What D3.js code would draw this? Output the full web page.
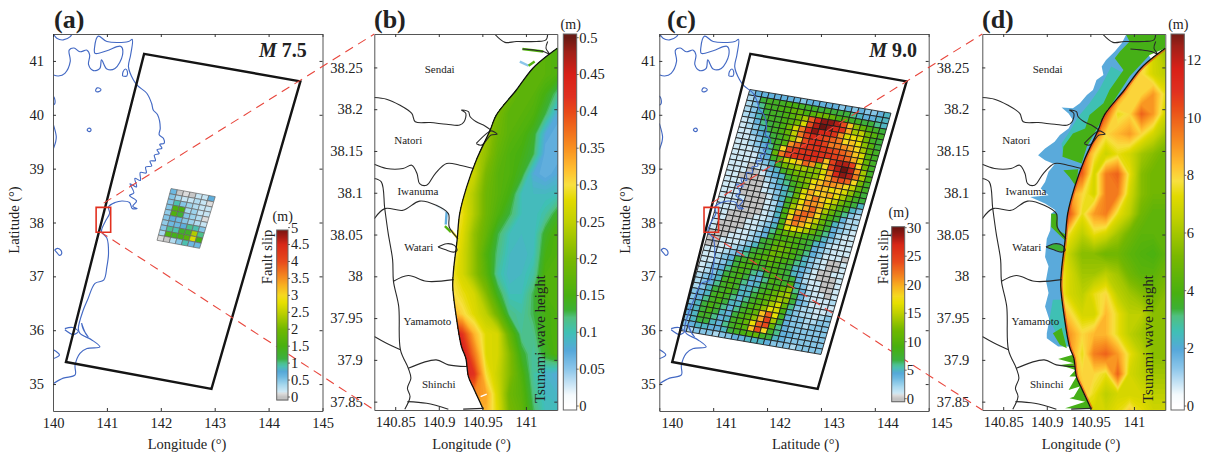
<!DOCTYPE html>
<html><head><meta charset="utf-8">
<script src="https://cdn.jsdelivr.net/npm/d3@7/dist/d3.min.js"></script>
<style>
html,body{margin:0;padding:0;background:#fff}
svg{display:block}
text{font-family:"Liberation Serif","Times New Roman",serif;fill:#222}
</style></head><body>
<svg id="fig" width="1212" height="457"></svg>
<script>
// ---------- data ----------
const rectCorners = [[141.69,41.13],[144.59,40.62],[142.94,34.91],[140.24,35.41]];
const boxA = [140.80,141.07,38.28,37.82];
const boxC = [140.83,141.10,38.28,37.82];
const linkA = [[140.94,38.36],[140.87,37.83]];
const linkC = [[140.97,38.36],[140.97,37.77]];

const honshu = [[140.01,40.74],[140.10,40.72],[140.22,40.77],[140.32,40.99],[140.30,41.20],[140.39,41.24],[140.50,41.17],[140.63,41.20],[140.68,41.11],[140.66,40.93],[140.75,40.82],[140.87,40.86],[140.90,41.02],[141.00,40.85],[141.15,40.86],[141.29,41.11],[141.26,41.27],[141.00,41.19],[140.78,41.14],[140.77,41.24],[140.84,41.46],[141.00,41.36],[141.40,41.36],[141.47,41.40],[141.44,41.11],[141.40,40.89],[141.49,40.65],[141.57,40.54],[141.74,40.40],[141.83,40.21],[141.86,40.09],[141.94,40.00],[141.99,39.75],[141.97,39.63],[142.05,39.56],[142.06,39.47],[141.98,39.45],[142.02,39.38],[141.93,39.35],[141.97,39.28],[141.88,39.25],[141.90,39.15],[141.80,39.14],[141.83,39.05],[141.72,39.03],[141.73,38.92],[141.62,38.93],[141.62,38.78],[141.52,38.82],[141.55,38.66],[141.43,38.72],[141.50,38.55],[141.42,38.50],[141.55,38.40],[141.48,38.30],[141.56,38.26],[141.47,38.26],[141.42,38.37],[141.28,38.40],[141.15,38.37],[141.03,38.29],[141.05,38.17],[140.97,38.02],[140.90,37.83],[141.00,37.71],[141.03,37.43],[141.00,37.18],[140.94,36.93],[140.78,36.87],[140.64,36.56],[140.56,36.37],[140.47,36.03],[140.50,35.94],[140.72,35.82],[140.87,35.69],[140.63,35.66],[140.50,35.57],[140.41,35.35],[140.41,35.17],[140.19,35.11],[140.01,35.01]];
const hokkaido = [[140.01,41.50],[140.07,41.42],[140.19,41.39],[140.32,41.45],[140.35,41.50]];
const lakes = [
 [[140.79,40.46],[140.82,40.50],[140.87,40.49],[140.89,40.46],[140.85,40.43],[140.80,40.43],[140.79,40.46]],
 [[140.63,39.72],[140.66,39.75],[140.70,39.74],[140.70,39.70],[140.66,39.69],[140.63,39.72]],
 [[140.03,37.49],[140.08,37.52],[140.14,37.49],[140.16,37.42],[140.12,37.39],[140.08,37.43],[140.03,37.49]],
 [[141.29,40.72],[141.30,40.80],[141.35,40.85],[141.38,40.80],[141.37,40.72],[141.29,40.72]],
 [[140.00,40.35],[140.03,40.30],[140.03,40.20],[140.00,40.18]],
 [[140.00,39.84],[140.06,39.60],[140.05,39.50],[140.00,39.35]],
 [[140.00,35.64],[140.12,35.54],[140.00,35.47]],
 [[140.22,36.03],[140.36,36.05],[140.47,35.98],[140.38,35.92],[140.22,36.01]],
 [[140.53,36.13],[140.60,35.95],[140.65,35.88],[140.56,36.02],[140.53,36.13]]
];

const faultCornersA = [[142.19,38.63],[143.01,38.48],[142.72,37.52],[141.93,37.67]];
const faultSlipA = [
 [.6,.02,.1,.02,.2,.2,.7],
 [.5,.35,.2,.2,.3,.2,.1],
 [.5,.9,.5,.4,.3,.2,.2],
 [.5,1.6,1.5,.35,.4,.2,.2],
 [.45,1.6,1.2,.5,.4,.3,.1],
 [.5,.7,.6,.5,.4,.3,.2],
 [.45,.6,.6,.7,1,.9,.5],
 [.5,1,.9,1.3,1.3,2.4,1],
 [.35,1.6,1.4,1.5,1.7,2.7,1.5],
 [.1,.02,.3,.5,.9,.6,.6]
];
const faultCornersC = [[141.68,40.47],[144.30,40.03],[143.00,35.55],[140.38,35.997]];
// one character per cell, base 36, metres of slip
const faultSlipC = [
"3444444434444434343345","2378889988878777654455","2368899bb9accb99887765",
"2357889acenrttsojdb987","2357889acgosutrqkefca8","1246789cgmrtrrqlghgc87",
"1235789bfmprponmijhda7","1134578aejoqrpmmlkiea8","1123578alnqqqqponmjga8",
"1123468ioqqqrqqponkgb8","111235bmpqqrqpjpsspic8","1111348afhjnldipsusle8",
"11112358cdeeddglrtsme9","111012458acccdhknonic8","1110013457acdhjllkifb8",
"11000023568acikjhigd97","11100013457bgkijkheb87","11100012356bhjmjhfc975",
"11100001358chllkgda853","11110001248eiknjeb8632","11100001259glnmic97422",
"11100001259inmjfb85322","11000011249jmkhda74321","11000112359ghgeb864211",
"10000112469bcb98753211","100011234799a987542111","0001112378aba987432111",
"0011123578bcb986431110","0011235789cba975321001","111234689aba9865321001",
"1123478998a98754310011","1123579987998754210001","1234689865798774211001",
"1235789754698895311001","2345898645789bd6421101","234689855689bde7421112",
"23578975579aced7431111","34589864689begb6322112","3468975579adhg95322123",
"3579864689bjnh84332233","457975479adkpe74332333","458864589bhnob64333333",
"357754689ajoi864433333","3455445789ab8754333333","2233323344555433323333"
];

const coast = [[141.036,38.273],[141.027,38.266],[141.008,38.249],[140.989,38.223],[140.966,38.193],[140.959,38.175],[140.943,38.139],[140.932,38.107],[140.924,38.075],[140.921,38.043],[140.917,38.008],[140.916,37.988],[140.920,37.952],[140.926,37.916],[140.931,37.902],[140.934,37.880],[140.939,37.868],[140.951,37.841]];
const boundaries = [
 [[140.964,38.29],[140.976,38.280],[140.989,38.281],[141.012,38.281],[141.023,38.283],[141.025,38.29]],
 [[140.996,38.272],[141.008,38.271],[141.020,38.269],[141.027,38.266],[141.023,38.273],[141.025,38.281]],
 [[140.826,38.214],[140.840,38.212],[140.855,38.205],[140.869,38.195],[140.873,38.185],[140.890,38.184],[140.909,38.182],[140.924,38.181],[140.929,38.185],[140.931,38.195],[140.926,38.199],[140.934,38.197],[140.936,38.191],[140.943,38.185],[140.953,38.180],[140.960,38.175]],
 [[140.943,38.159],[140.955,38.171],[140.960,38.174],[140.967,38.170],[140.960,38.169],[140.949,38.157],[140.943,38.159]],
 [[140.826,38.134],[140.840,38.129],[140.859,38.129],[140.869,38.133],[140.875,38.123],[140.878,38.111],[140.886,38.109],[140.896,38.123],[140.909,38.135],[140.924,38.133],[140.940,38.129]],
 [[140.826,38.069],[140.838,38.081],[140.859,38.079],[140.878,38.090],[140.897,38.085],[140.911,38.075],[140.912,38.059],[140.922,38.045]],
 [[140.826,38.117],[140.834,38.113],[140.838,38.081],[140.842,38.051],[140.847,38.020],[140.848,37.994],[140.854,37.964],[140.856,37.912],[140.865,37.890],[140.868,37.878],[140.864,37.866],[140.867,37.856],[140.861,37.841]],
 [[140.848,37.994],[140.865,38.001],[140.886,37.994],[140.917,37.996]],
 [[140.826,37.928],[140.840,37.920],[140.856,37.912]],
 [[140.865,37.890],[140.897,37.900],[140.911,37.894],[140.932,37.892]],
 [[140.864,37.850],[140.886,37.848],[140.911,37.841]],
 [[140.928,37.841],[140.951,37.842]]
];
const island = [[140.899,38.035],[140.909,38.039],[140.918,38.037],[140.921,38.031],[140.917,38.029],[140.907,38.032],[140.899,38.035]];
const towns = ["Sendai","Natori","Iwanuma","Watari","Yamamoto","Shinchi"];
const townLon = [140.901,140.865,140.876,140.877,140.887,140.900];
const townLat = [38.247,38.162,38.101,38.035,37.946,37.871];

const gridLon0 = 140.90, gridDLon = 0.01358, gridLat0 = 38.29, gridDLat = 0.02394;
const waveB = [
[.17,.17,.17,.17,.17,.17,.17,.17,.17,.17,.16],
[.18,.18,.18,.18,.18,.18,.18,.18,.17,.17,.16],
[.19,.19,.19,.19,.19,.19,.19,.18,.17,.17,.16],
[.20,.20,.20,.20,.20,.20,.19,.17,.17,.15,.12],
[.22,.22,.22,.22,.22,.20,.17,.17,.16,.13,.08],
[.24,.24,.24,.24,.23,.19,.17,.16,.14,.08,.07],
[.25,.25,.25,.25,.22,.18,.16,.15,.13,.07,.07],
[.26,.26,.26,.26,.20,.17,.16,.14,.08,.07,.08],
[.28,.28,.28,.24,.19,.17,.15,.10,.095,.095,.10],
[.30,.30,.29,.24,.19,.16,.13,.10,.095,.11,.14],
[.31,.31,.28,.22,.18,.13,.10,.095,.095,.14,.16],
[.32,.32,.27,.22,.16,.12,.095,.09,.10,.15,.16],
[.31,.30,.27,.22,.17,.11,.09,.095,.11,.16,.16],
[.32,.31,.29,.27,.21,.14,.10,.10,.13,.16,.16],
[.36,.34,.31,.28,.25,.19,.12,.11,.13,.15,.16],
[.47,.47,.42,.33,.28,.27,.18,.115,.12,.15,.16],
[.47,.47,.46,.37,.28,.27,.21,.14,.11,.14,.16],
[.44,.44,.44,.42,.30,.26,.21,.16,.11,.09,.08],
[.38,.38,.38,.36,.34,.27,.19,.17,.12,.095,.09],
[.33,.33,.33,.33,.33,.28,.20,.18,.13,.10,.10]
];
const waveD = [
[6,6,6,6,6,6,6,6,5.5,6,6],
[8,8,8,8,8,8,8,8,8.5,7,6],
[9,9,9,9,9,9,9,9,8,7,6.5],
[9.5,9.5,9.5,9.5,9.5,9.5,9.5,8,8,9,7.5],
[10,10,10,10,10,10,7.5,8,10,9,7],
[10,10,10,10,10,8,8.5,9,8,7,6],
[10,10,10,10,8,6.8,7.5,7,6,5.5,5],
[10,10,10,10,7,9.5,10,7.5,5.5,5,5],
[9,9,9,8,7,9.5,9.5,7,5.5,5,5],
[10,10,10,7.5,9,9.5,7.5,6.5,5,4.5,4.5],
[9,9,7.5,6.5,7.5,7,6,5,4.5,4.5,4.5],
[8,8,6.5,5.5,5.5,5,5,4.5,4.2,4,4.5],
[8,8,7,6,6,6.5,6,5,4.5,4.5,5],
[8,8,7,6.5,7.5,8,6.5,6,5.5,5,5.5],
[9,9,8,7,7,8.5,7.5,6.5,6.5,5.5,5.5],
[9,9,9,8,8.5,8.5,7.5,6.5,6,5.5,5.5],
[9,9,9,7.5,9.5,10,9,7.5,6.5,5.5,5.5],
[9,9,9,8,8,7.5,10,7,6.5,6,6],
[8.5,8.5,8.5,8.5,7.5,6.5,7,7,7,6.5,6.5],
[7,7,7,7,7,7,7.5,8.5,7.5,7,7]
];
const floodBlue = [[140.991,38.289],[140.986,38.279],[140.978,38.269],[140.968,38.259],[140.963,38.251],[140.965,38.241],[140.957,38.235],[140.953,38.223],[140.946,38.217],[140.938,38.207],[140.930,38.201],[140.917,38.202],[140.925,38.195],[140.930,38.187],[140.925,38.177],[140.915,38.169],[140.909,38.161],[140.898,38.153],[140.890,38.145],[140.898,38.139],[140.909,38.134],[140.902,38.125],[140.898,38.113],[140.893,38.105],[140.902,38.097],[140.881,38.095],[140.898,38.087],[140.910,38.079],[140.905,38.075],[140.904,38.055],[140.900,38.045],[140.898,38.023],[140.902,38.012],[140.899,37.995],[140.902,37.980],[140.898,37.964],[140.903,37.948],[140.900,37.932],[140.900,37.926],[140.913,37.916],[140.934,37.916],[141.0,37.916],[141.02,38.26],[141.0,38.289]];
const floodTeal = [
 [[140.974,38.251],[140.961,38.225],[140.949,38.207],[140.936,38.191],[140.926,38.173],[140.917,38.159],[140.919,38.143],[140.946,38.155],[140.995,38.239]],
 [[140.903,37.948],[140.911,37.932],[140.924,37.916],[140.919,37.972],[140.907,37.972]]
];
const floodGreen = [
 [[140.991,38.289],[140.995,38.281],[140.984,38.269],[140.978,38.261],[140.988,38.247],[140.972,38.223],[140.965,38.207],[140.949,38.193],[140.944,38.177],[140.930,38.171],[140.919,38.155],[140.918,38.143],[140.940,38.135],[140.946,38.155],[140.965,38.191],[140.995,38.239],[141.018,38.265],[141.036,38.273],[141.036,38.29]],
 [[140.919,38.127],[140.936,38.128],[140.934,38.107],[140.926,38.119]],
 [[140.905,38.075],[140.912,38.075],[140.913,38.055],[140.923,38.049],[140.921,38.043],[140.905,38.059]],
 [[140.907,37.932],[140.917,37.938],[140.923,37.914],[140.915,37.918]],
 [[140.930,37.906],[140.913,37.901],[140.931,37.896],[140.915,37.894],[140.933,37.888],[140.926,37.880],[140.934,37.880],[140.925,37.864],[140.938,37.868],[140.931,37.856],[140.926,37.854],[140.944,37.850],[140.921,37.842],[140.953,37.841],[140.946,37.860],[140.934,37.902]]
];
const riverBits = [
 {v:.02,pts:[[140.897,38.085],[140.909,38.077]]},
 {v:.07,pts:[[140.909,38.077],[140.908,38.062]]},
 {v:.16,pts:[[140.907,38.060],[140.914,38.053]]},
 {v:.29,pts:[[140.914,38.055],[140.922,38.045]]},
 {v:.16,pts:[[140.996,38.272],[141.020,38.269]]},
 {v:.05,pts:[[140.993,38.257],[141.003,38.252]]},
 {v:.16,pts:[[141.003,38.252],[141.010,38.257]]}
];
const whiteMark = [[140.948,37.856],[140.955,37.859]];
const stopT = [0,.03,.10,.15,.20,.24,.26,.30,.40,.50,.56,.60,.64,.70,.80,.84,.90,.96,1];
const heightCols = ["#ffffff","#f4fafd","#8cc6ea","#56a8da","#3fc0b4","#50c080","#3cb034","#48b010","#7ab800","#c0d000","#e2da00","#f8e040","#ffc030","#f89020","#e84818","#e03020","#d82018","#a02018","#6a1a14"];
const slipStopT = [0,.02,.033,.07,.12,.15,.18,.20,.225,.30,.40,.50,.56,.60,.66,.70,.80,.90,.95,1];
const slipCols = ["#c2c2c2","#dcdcdc","#cde8f5","#a8d8ee","#6cb8e0","#55a8d8","#4cc0b0","#4cc08c","#3cb040","#48b010","#70b800","#c0d000","#e8e000","#f5d820","#f8b020","#f59020","#e84a1c","#d82818","#a01a14","#6a1410"];
const slipTicksA = [0,.5,1,1.5,2,2.5,3,3.5,4,4.5,5];
const slipTicksC = [0,5,10,15,20,25,30];
const waveTicksB = [0,.05,.1,.15,.2,.25,.3,.35,.4,.45,.5];
const waveTicksD = [0,2,4,6,8,10,12];
const lonTicksWide = [140,141,142,143,144,145];
const latTicksWide = [35,36,37,38,39,40,41];
const lonTicksZoom = [140.85,140.9,140.95,141];
const latTicksZoom = [37.85,37.9,37.95,38,38.05,38.1,38.15,38.2,38.25];

// ---------- drawing ----------
const svg = d3.select("#fig");
const heightT = d3.scaleLinear().domain(stopT).range(heightCols).clamp(true);
const slipT = d3.scaleLinear().domain(slipStopT).range(slipCols).clamp(true);
let uid = 0;
const line = (x,y)=>d3.line().x(d=>x(d[0])).y(d=>y(d[1]));
const curve = (x,y)=>d3.line().x(d=>x(d[0])).y(d=>y(d[1])).curve(d3.curveCatmullRom.alpha(.5));

function frame(g, x, y, xt, yt, o){
  const top = y.range()[1], bot = y.range()[0], L = x.range()[0], R = x.range()[1];
  const fmt = d=>String(+d);
  const st = s=>s.attr("font-size",14.5).attr("font-family","Liberation Serif").call(a=>a.select(".domain").attr("stroke","#555").attr("stroke-width",1))
     .call(a=>a.selectAll("line").attr("stroke","#333").attr("stroke-width",1))
     .call(a=>a.selectAll("text").attr("fill","#222"));
  const bx = g.append("g").attr("transform",`translate(0,${bot})`).call(d3.axisBottom(x).tickValues(xt).tickFormat(fmt).tickSizeInner(-3).tickSizeOuter(0).tickPadding(6.7)).call(st);
  bx.selectAll("text").attr("dx",o.xShift||0);
  g.append("g").attr("transform",`translate(${L},0)`).call(d3.axisLeft(y).tickValues(yt).tickFormat(fmt).tickSizeInner(-3).tickSizeOuter(0).tickPadding(o.yPad)).call(st);
  g.append("g").attr("transform",`translate(0,${top})`).call(d3.axisTop(x).tickValues(xt).tickFormat("").tickSizeInner(-3).tickSizeOuter(0)).call(st);
  g.append("g").attr("transform",`translate(${R},0)`).call(d3.axisRight(y).tickValues(yt).tickFormat("").tickSizeInner(-3).tickSizeOuter(0)).call(st);
}
function label(txt,x,yy,size,extra={}){
  const t = svg.append("text").attr("x",x).attr("y",yy).attr("font-size",size).text(txt);
  Object.entries(extra).forEach(([k,v])=>t.attr(k,v));
  return t;
}
function vlabel(txt,x,yc,size){
  return svg.append("text").attr("transform",`translate(${x},${yc}) rotate(-90)`).attr("text-anchor","middle").attr("font-size",size).text(txt);
}
function clip(pathD){
  const id = "c"+(++uid);
  svg.append("clipPath").attr("id",id).append("path").attr("d",pathD);
  return `url(#${id})`;
}
function colorbar(x0,x1,yScale,yTop,yBot,ticks,color,labelX,title,titleX){
  const g = svg.append("g");
  const steps = d3.range(yTop,yBot,1);
  g.selectAll("rect").data(steps).join("rect").attr("x",x0).attr("width",x1-x0).attr("y",d=>d).attr("height",1.5)
    .attr("fill",d=>color(yScale.invert(d+.5)));
  g.append("rect").attr("x",x0).attr("y",yTop).attr("width",x1-x0).attr("height",yBot-yTop).attr("fill","none").attr("stroke","#666").attr("stroke-width",1);
  g.selectAll("line").data(ticks).join("line").attr("x1",x1).attr("x2",x1+2).attr("y1",d=>yScale(d)).attr("y2",d=>yScale(d)).attr("stroke","#444").attr("stroke-width",.8);
  g.selectAll("text").data(ticks).join("text").attr("x",labelX).attr("y",d=>yScale(d)).attr("dy",".34em").attr("font-size",14.5).text(d=>String(d));
  label(title,titleX,yTop<100?29:yTop-9.5,14,{"text-anchor":"middle"});
}
function widePanel(o){
  const x = d3.scaleLinear().domain([140,145]).range(o.xr);
  const y = d3.scaleLinear().domain([34.5,41.5]).range([411,34]);
  const g = svg.append("g");
  const L = line(x,y), C = curve(x,y);
  const cp = clip(`M${o.xr[0]},34H${o.xr[1]}V411H${o.xr[0]}Z`);
  const inner = g.append("g").attr("clip-path",cp);
  const [tl,tr,br,bl] = o.corners;
  const nr = o.slip.length, nc = o.slip[0].length;
  const at = (r,c)=>{const u=c/nc,v=r/nr;return [
    tl[0]*(1-u)*(1-v)+tr[0]*u*(1-v)+br[0]*u*v+bl[0]*(1-u)*v,
    tl[1]*(1-u)*(1-v)+tr[1]*u*(1-v)+br[1]*u*v+bl[1]*(1-u)*v];};
  const cells=[];
  o.slip.forEach((row,r)=>{for(let c=0;c<nc;c++) cells.push({r,c,v:o.val(row,c)});});
  inner.selectAll("path.cell").data(cells).join("path").attr("class","cell")
    .attr("d",d=>L([at(d.r,d.c),at(d.r,d.c+1),at(d.r+1,d.c+1),at(d.r+1,d.c)])+"Z")
    .attr("fill",d=>slipT(d.v/o.max)).attr("stroke",o.cellStroke).attr("stroke-width",o.cellW);
  const coastG = inner.append("g").attr("fill","none").attr("stroke","#4369c4").attr("stroke-width",1.15);
  [honshu,hokkaido,...lakes].forEach(p=>coastG.append("path").attr("d",C(p)));
  inner.append("path").attr("d",L(rectCorners)+"Z").attr("fill","none").attr("stroke","#141414").attr("stroke-width",2.4);
  const b=o.box;
  inner.append("path").attr("d",L([[b[0],b[2]],[b[1],b[2]],[b[1],b[3]],[b[0],b[3]]])+"Z").attr("fill","none").attr("stroke","#e2301f").attr("stroke-width",1.6);
  frame(g,x,y,lonTicksWide,latTicksWide,{yPad:o.yPad,xShift:o.xShift});
  return {x,y};
}
function zoomPanel(o){
  const x = d3.scaleLinear().domain([140.826,141.036]).range(o.xr);
  const y = d3.scaleLinear().domain([37.84,38.29]).range([410,34]);
  const g = svg.append("g");
  const L = line(x,y), C = curve(x,y);
  const cp = clip(`M${o.xr[0]},34H${o.xr[1]}V410H${o.xr[0]}Z`);
  const inner = g.append("g").attr("clip-path",cp);
  if(o.land) o.land(inner,L);
  const seaClip = clip(C(coast)+"L"+L([[141.06,37.83],[141.06,38.273]]).slice(1)+"Z");
  const sea = inner.append("g").attr("clip-path",seaClip);
  const ny=o.field.length,nx=o.field[0].length;
  const cs=d3.contours().size([nx,ny]).thresholds(o.levels)(o.field.flat());
  const proj=d3.geoTransform({point(gx,gy){this.stream.point(x(gridLon0+(gx-.5)*gridDLon),y(gridLat0-(gy-.5)*gridDLat));}});
  const gp=d3.geoPath(proj);
  sea.selectAll("path").data(cs).join("path").attr("d",gp).attr("fill",d=>o.color(d.value));
  if(o.fringe) sea.append("path").attr("d",C(coast)).attr("fill","none").attr("stroke",o.fringe).attr("stroke-width",4).attr("opacity",.6);
  if(o.over) o.over(inner,L);
  const lg=inner.append("g").attr("fill","none").attr("stroke","#2a2a2a").attr("stroke-width",1.1);
  boundaries.forEach(p=>lg.append("path").attr("d",C(p)));
  lg.append("path").attr("d",C(island));
  inner.append("path").attr("d",C(coast)).attr("fill","none").attr("stroke","#111").attr("stroke-width",1.3);
  inner.selectAll("text").data(towns).join("text").attr("x",(d,i)=>x(townLon[i])).attr("y",(d,i)=>y(townLat[i])).attr("dy",".32em").attr("text-anchor","middle").attr("font-size",11).text(d=>d);
  frame(g,x,y,lonTicksZoom,latTicksZoom,{yPad:o.yPad});
  return {x,y};
}

const A = widePanel({xr:[53,322.5],corners:faultCornersA,slip:faultSlipA,val:(row,c)=>row[c],max:5,cellStroke:"#666",cellW:.7,box:boxA,yPad:9});
const C = widePanel({xr:[659.3,928.7],corners:faultCornersC,slip:faultSlipC,val:(row,c)=>parseInt(row[c],36),max:30,cellStroke:"#1a1a1a",cellW:.85,box:boxC,yPad:3.6,xShift:12.5});

const B = zoomPanel({xr:[374.3,557.3],field:waveB,levels:d3.range(0,.52,.005),color:v=>heightT(v/.5),yPad:11.5,
  over:(g,L)=>{
    riverBits.forEach(b=>g.append("path").attr("d",L(b.pts)).attr("fill","none").attr("stroke",heightT(b.v/.5)).attr("stroke-width",2.4));
    g.append("path").attr("d",L(whiteMark)).attr("fill","none").attr("stroke","#fff").attr("stroke-width",1.6);
  }});
const hd = v=>heightT(v/13);
const D = zoomPanel({xr:[982.3,1165.3],field:waveD,levels:d3.range(0,13,.125),color:hd,yPad:13,fringe:hd(10.5),
  land:(g,L)=>{
    g.append("path").attr("d",L(floodBlue)+"Z").attr("fill",hd(1.9));
    floodTeal.forEach(p=>g.append("path").attr("d",L(p)+"Z").attr("fill",hd(2.6)));
    floodGreen.forEach(p=>g.append("path").attr("d",L(p)+"Z").attr("fill",hd(3.8)));
    g.append("path").attr("d",L(island)+"Z").attr("fill",hd(3.4));
  }});

function link(P,Q,pts){
  const t=Q.y.range();
  const ends=[[Q.x.range()[0],t[1]],[Q.x.range()[0],t[0]]];
  pts.forEach((p,i)=>{
    svg.append("line").attr("x1",P.x(p[0])).attr("y1",P.y(p[1])).attr("x2",ends[i][0]).attr("y2",ends[i][1])
      .attr("stroke","#e8463c").attr("stroke-width",1.1).attr("stroke-dasharray","9,6");
  });
}
link(A,B,linkA);
link(C,D,linkC);

colorbar(276.7,288,d3.scaleLinear().domain([0,5]).range([397,227.6]),230,400,slipTicksA,v=>slipT(v/5),291,"(m)",282.7);
colorbar(891.7,904.7,d3.scaleLinear().domain([0,30]).range([398.7,227.7]),226.7,401.7,slipTicksC,v=>slipT(v/30),906.7,"(m)",898.7);
colorbar(563.3,576.7,d3.scaleLinear().domain([0,.5]).range([406,37.7]),34,410,waveTicksB,v=>heightT(v/.5),579.3,"(m)",570.7);
colorbar(1171,1184.3,d3.scaleLinear().domain([0,12]).range([406,60]),34,410,waveTicksD,hd,1186.7,"(m)",1178.3);

[["(a)",54],["(b)",374],["(c)",667],["(d)",982]].forEach(d=>label(d[0],d[1],28,26,{"font-weight":"bold"}));
[[259],[869.3]].forEach((d,i)=>{
  const t=label("",d[0],57,20,{"font-weight":"bold"});
  t.append("tspan").attr("font-style","italic").text("M");
  t.append("tspan").text(i?" 9.0":" 7.5");
});
label("Longitude (°)",187,449,14.5,{"text-anchor":"middle"});
label("Longitude (°)",471.5,449,14.5,{"text-anchor":"middle"});
label("Latitude (°)",805.7,449,14.5,{"text-anchor":"middle"});
label("Longitude (°)",1081,449,14.5,{"text-anchor":"middle"});
vlabel("Latitude (°)",19,220,14.5);
vlabel("Latitude (°)",630,220,14.5);
vlabel("Fault slip",272,257,14.5);
vlabel("Fault slip",887.5,257,14.5);
vlabel("Tsunami wave height",544.5,339,15);
vlabel("Tsunami wave height",1152.5,339,15);
</script>
</body></html>
